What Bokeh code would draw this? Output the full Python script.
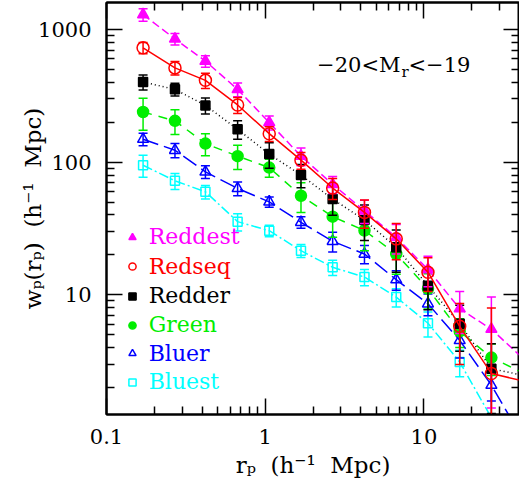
import math
from bokeh.plotting import figure
from bokeh.models import (LogAxis, FixedTicker, CustomJSTickFormatter, Label,
                          Legend, LegendItem, Range1d, ColumnDataSource)
from bokeh.embed import file_html
from bokeh.resources import INLINE

# ---------------- data ----------------
rp = [0.17, 0.27, 0.42, 0.67, 1.06, 1.68, 2.66, 4.22, 6.69, 10.6, 16.8, 26.6]
rp_line_end = 40.0

names = ["Reddest", "Redseq", "Redder", "Green", "Bluer", "Bluest"]

wp_reddest = [1297, 850, 578, 354, 199, 111, 68, 43, 27.1, 15.5, 7.85, 5.5]
err_reddest = [140, 85, 58, 42, 24, 17, 10, 8.6, 6.8, 4.0, 2.75, 4.1]
end_reddest = 3.5

wp_redseq = [728, 514, 414, 270, 164, 103.5, 63.8, 41.8, 26.4, 14.8, 5.78, 2.55]
err_redseq = [70, 60, 54, 37, 21, 15, 11.5, 10, 8, 4.2, 2.8, 5.4]
end_redseq = 2.27

wp_redder = [402, 354, 268, 177, 115, 80, 52.7, 36.6, 22.8, 11.7, 6.05, 2.77]
err_redder = [52, 39, 37, 28, 25, 16, 13, 11, 8, 4, 2.3, 1.5]
end_redder = 2.5

wp_green = [239, 205, 138, 111, 91, 55.8, 38.8, 30.5, 20.3, 11.1, 5.3, 3.36]
err_green = [65, 43, 26, 23, 14, 14, 11.6, 9, 6, 3.3, 1.3, 0.9]
end_green = 2.65

wp_bluer = [149, 123, 84.5, 63.4, 50.2, 35.2, 25.3, 20.3, 13.0, 8.55, 4.53, 2.08]
err_bluer = [16, 15, 9.3, 7.6, 4.5, 3.5, 4.3, 3.2, 2.2, 1.6, 1.2, 0.5]
end_bluer = 0.9

wp_bluest = [94.8, 72.3, 59.8, 35.6, 30.4, 21.5, 16.1, 13.6, 9.6, 6.1, 3.11, float("nan")]
err_bluest = [18, 10, 7, 5.3, 3, 2.4, 2.1, 1.9, 1.5, 1.3, 0.7, float("nan")]
end_bluest = 0.5

x_ticks = [0.1, 1, 10]
x_minor = [0.2, 0.3, 0.4, 0.5, 0.6, 0.7, 0.8, 0.9, 2, 3, 4, 5, 6, 7, 8, 9, 20, 30, 40]
y_ticks = [1, 10, 100, 1000]
y_minor = [2, 3, 4, 5, 6, 7, 8, 9, 20, 30, 40, 50, 60, 70, 80, 90,
           200, 300, 400, 500, 600, 700, 800, 900]

x_label = "r\u209a\u00a0\u00a0(h\u207b\u00b9\u00a0\u00a0Mpc)"
y_label = "w\u209a(r\u209a)\u00a0\u00a0(h\u207b\u00b9\u00a0\u00a0Mpc)"

# ---------------- styles ----------------
FONT = "DejaVu Serif"
series = [
    dict(name="Bluest", wp=wp_bluest, err=err_bluest, end=end_bluest, color="#00ffff",
         marker="square", filled=False, size=9, dash="10 3 2 3"),
    dict(name="Bluer", wp=wp_bluer, err=err_bluer, end=end_bluer, color="#0000ff",
         marker="triangle", filled=False, size=11, dash="16 6"),
    dict(name="Green", wp=wp_green, err=err_green, end=end_green, color="#00ee00",
         marker="circle", filled=True, size=11, dash="9 7"),
    dict(name="Redder", wp=wp_redder, err=err_redder, end=end_redder, color="#000000",
         marker="square", filled=True, size=9, dash="1 3"),
    dict(name="Reddest", wp=wp_reddest, err=err_reddest, end=end_reddest, color="#ff00ff",
         marker="triangle", filled=True, size=11, dash="8 4"),
    dict(name="Redseq", wp=wp_redseq, err=err_redseq, end=end_redseq, color="#ff0000",
         marker="circle", filled=False, size=12, dash="solid"),
]

FRAME_L, FRAME_B = 106, 414

p = figure(width=519, height=495, x_axis_type="log", y_axis_type="log",
           x_range=Range1d(0.1, 40), y_range=Range1d(1.25, 1600),
           output_backend="svg", toolbar_location=None,
           min_border_left=FRAME_L, min_border_right=0, min_border_top=2,
           min_border_bottom=495 - FRAME_B)
p.grid.visible = False
p.outline_line_color = "black"
p.outline_line_width = 2
p.background_fill_color = "white"
p.border_fill_color = "white"

fmt = CustomJSTickFormatter(code="return tick.toString();")
blank = CustomJSTickFormatter(code="return '';")


def style_axis(ax, ticks, minor, show_labels):
    ax.ticker = FixedTicker(ticks=ticks, minor_ticks=minor)
    ax.axis_line_width = 2
    ax.axis_line_color = "black"
    ax.major_tick_in = 16
    ax.major_tick_out = 0
    ax.minor_tick_in = 8
    ax.minor_tick_out = 0
    ax.major_tick_line_width = 1.5
    ax.minor_tick_line_width = 1.5
    ax.major_tick_line_color = "black"
    ax.minor_tick_line_color = "black"
    if show_labels:
        ax.formatter = fmt
        ax.major_label_text_font = FONT
        ax.major_label_text_font_size = "21px"
        ax.major_label_text_color = "black"
    else:
        ax.formatter = blank
        ax.major_label_standoff = 0


xa = p.xaxis[0]
style_axis(xa, x_ticks, x_minor, True)
xa.major_label_standoff = 14
xa.axis_label = x_label
xa.axis_label_text_font = FONT
xa.axis_label_text_font_size = "23px"
xa.axis_label_text_font_style = "normal"
xa.axis_label_text_color = "black"
xa.axis_label_standoff = 5

ya = p.yaxis[0]
style_axis(ya, y_ticks, y_minor, True)
ya.major_label_standoff = 15
ya.axis_label = y_label
ya.axis_label_text_font = FONT
ya.axis_label_text_font_size = "23px"
ya.axis_label_text_font_style = "normal"
ya.axis_label_text_color = "black"
ya.axis_label_standoff = -11

top = LogAxis()
style_axis(top, x_ticks, x_minor, False)
p.add_layout(top, "above")
right = LogAxis()
style_axis(right, y_ticks, y_minor, False)
p.add_layout(right, "right")

legend_rend = {}
for s in series:
    xs, ys, lo, hi = [], [], [], []
    for x, v, e in zip(rp, s["wp"], s["err"]):
        if v == v:
            xs.append(x)
            ys.append(v)
            lo.append(max(v - e, 1e-3))
            hi.append(v + e)
    src = ColumnDataSource(dict(x=xs, y=ys, lo=lo, hi=hi))
    lsrc = ColumnDataSource(dict(x=xs + [rp_line_end], y=ys + [s["end"]]))
    p.line("x", "y", source=lsrc, line_color=s["color"], line_width=1.5,
           line_dash=s["dash"])
    p.segment(x0="x", y0="lo", x1="x", y1="hi", source=src,
              line_color=s["color"], line_width=1.5)
    p.scatter("x", "hi", source=src, marker="dash", size=9,
              line_color=s["color"], line_width=1.5)
    p.scatter("x", "lo", source=src, marker="dash", size=9,
              line_color=s["color"], line_width=1.5)
    r = p.scatter("x", "y", source=src, marker=s["marker"], size=s["size"],
                  line_color=s["color"], line_width=1.5,
                  fill_color=s["color"] if s["filled"] else None)
    legend_rend[s["name"]] = (r, s["color"])

# legend: one block per entry so each label has its own colour
legend_y = [237.3, 266.7, 296.0, 325.0, 353.5, 382.0]
for name, yc in zip(names, legend_y):
    r, col = legend_rend[name]
    lg = Legend(items=[LegendItem(label=name, renderers=[r])],
                location=(131.7 - FRAME_L - 9, FRAME_B - yc - 12),
                glyph_width=18, glyph_height=24, label_standoff=8,
                padding=0, margin=0, spacing=0,
                label_text_font=FONT, label_text_font_size="22px",
                label_text_color=col, label_height=24,
                background_fill_alpha=0, border_line_alpha=0)
    p.add_layout(lg)


def lab(text, px, py, size=21, align="left"):
    p.add_layout(Label(x=px - FRAME_L, y=FRAME_B - py, x_units="screen", y_units="screen",
                       text=text, text_font=FONT, text_font_size=f"{size}px",
                       text_color="black", text_align=align,
                       text_baseline="alphabetic"))


# sample label  -20<M_r<-19
lab("\u221220<M", 400, 64, align="right")
lab("r", 401, 71, size=15)
lab("<\u221219", 408, 64)

open("out.html", "w").write(file_html(p, INLINE))
